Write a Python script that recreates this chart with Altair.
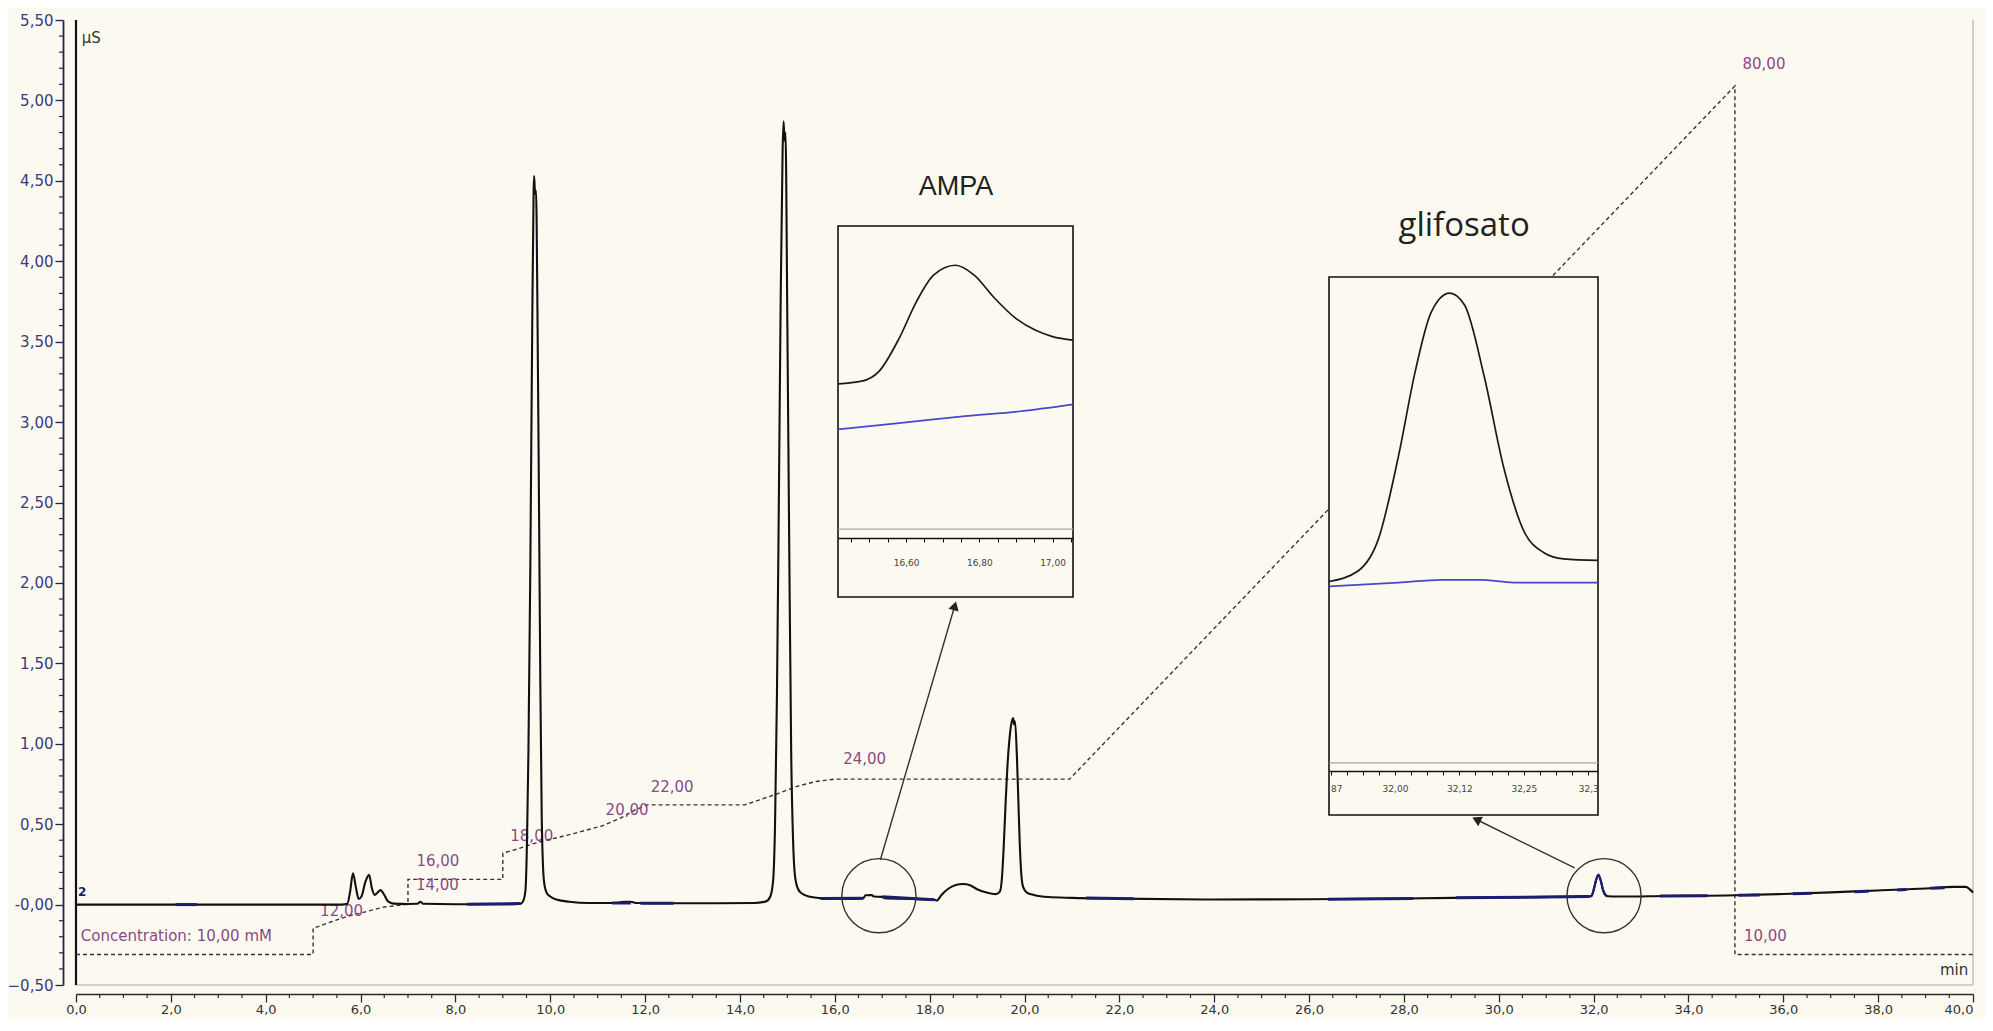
import altair as alt
import pandas as pd

# ---------------- layout constants ----------------
W, H = 1897, 965
X_DOMAIN = [0.0, 40.0]
Y_DOMAIN = [-0.5, 5.5]
BG = "#FCFAF0"
PURPLE = "#8a4a86"
NAVY = "#1d1d6e"

# ---------------- main chromatogram (min, µS) ----------------
TIME = [0.00, 2.00, 4.00, 5.60, 5.72, 5.78, 5.84, 5.90, 5.96, 6.02, 6.10, 6.18, 6.24, 6.30,
        6.36, 6.42, 6.50, 6.58, 6.70, 7.00, 7.20, 7.26, 7.32, 8.00, 9.00, 9.38, 9.44, 9.48,
        9.51, 9.54, 9.58, 9.62, 9.65, 9.66, 9.68, 9.70, 9.73, 9.76, 9.79, 9.82, 9.85, 9.88,
        9.93, 10.00, 10.15, 10.40, 10.80, 11.40, 11.55, 11.70, 11.80, 12.50, 13.50, 14.30,
        14.55, 14.64, 14.70, 14.74, 14.78, 14.82, 14.86, 14.90, 14.92, 14.94, 14.96, 15.00,
        15.04, 15.08, 15.12, 15.16, 15.22, 15.30, 15.45, 15.70, 16.00, 16.40, 16.60, 16.65,
        16.78, 16.82, 17.00, 17.05, 17.60, 18.10, 18.15, 18.25, 18.40, 18.55, 18.70, 18.85,
        19.00, 19.20, 19.40, 19.48, 19.52, 19.56, 19.60, 19.64, 19.68, 19.72, 19.76, 19.78,
        19.80, 19.84, 19.87, 19.90, 19.93, 19.97, 20.05, 20.20, 20.50, 21.00, 22.00, 24.00,
        26.00, 28.00, 30.00, 31.90, 31.96, 32.00, 32.05, 32.10, 32.15, 32.20, 32.25, 32.30,
        32.50, 33.50, 35.00, 36.00, 37.00, 38.00, 39.00, 39.60, 39.85, 39.95, 40.00]
SIGNAL = [0.000, 0.000, 0.000, 0.000, 0.005, 0.080, 0.195, 0.110, 0.035, 0.050, 0.140, 0.185, 0.100, 0.060,
          0.075, 0.090, 0.060, 0.020, 0.006, 0.004, 0.005, 0.018, 0.005, 0.002, 0.002, 0.006, 0.030, 0.100,
          0.400, 0.950, 2.100, 3.600, 4.450, 4.530, 4.420, 4.440, 3.700, 2.600, 1.400, 0.550, 0.220, 0.120,
          0.070, 0.050, 0.030, 0.018, 0.010, 0.010, 0.018, 0.018, 0.010, 0.008, 0.008, 0.010,
          0.020, 0.050, 0.150, 0.500, 1.300, 2.500, 3.800, 4.700, 4.870, 4.750, 4.800, 3.600,
          2.200, 0.950, 0.400, 0.180, 0.100, 0.070, 0.050, 0.040, 0.036, 0.035, 0.040, 0.058,
          0.060, 0.050, 0.048, 0.040, 0.035, 0.030, 0.025, 0.060, 0.100, 0.122, 0.128, 0.120,
          0.095, 0.075, 0.065, 0.080, 0.150, 0.350, 0.620, 0.860, 1.020, 1.120, 1.160, 1.120,
          1.140, 0.920, 0.650, 0.380, 0.200, 0.110, 0.075, 0.060, 0.047, 0.042, 0.037, 0.032,
          0.033, 0.038, 0.045, 0.050, 0.055, 0.090, 0.150, 0.185, 0.150, 0.090, 0.060, 0.052,
          0.050, 0.053, 0.058, 0.066, 0.076, 0.088, 0.100, 0.110, 0.110, 0.090, 0.075]

# integration-baseline marks (navy segments)
NAVY_T0 = [2.10, 8.25, 11.30, 11.90, 15.70, 17.00, 21.30, 26.40, 29.10, 33.40, 35.05, 36.20, 37.50, 38.40, 39.10]
NAVY_T1 = [2.55, 9.37, 11.70, 12.60, 16.60, 18.10, 22.30, 28.20, 31.90, 34.40, 35.50, 36.60, 37.80, 38.60, 39.40]
NAVY_Y0 = [0.000, 0.002, 0.010, 0.008, 0.038, 0.048, 0.041, 0.033, 0.042, 0.053, 0.058, 0.067, 0.080, 0.091, 0.101]
NAVY_Y1 = [0.000, 0.006, 0.010, 0.008, 0.040, 0.030, 0.037, 0.038, 0.050, 0.055, 0.060, 0.070, 0.083, 0.094, 0.104]

# eluent concentration program (drawn on the µS axis)
GRAD_T = [0.0, 5.0, 5.0, 5.1, 5.4, 5.7, 6.1, 6.5, 6.95, 7.0, 7.0, 9.0, 9.0, 9.3, 9.6, 9.9, 10.2,
          10.6, 11.1, 11.5, 11.8, 12.05, 14.1, 14.4, 14.8, 15.2, 15.6, 16.0, 20.95, 34.98, 34.98, 40.0]
GRAD_Y = [-0.31, -0.31, -0.147, -0.137, -0.105, -0.075, -0.045, -0.015, 0.0, 0.0, 0.157, 0.157,
          0.32, 0.345, 0.375, 0.40, 0.42, 0.45, 0.49, 0.54, 0.59, 0.62, 0.62, 0.65, 0.69, 0.735,
          0.765, 0.78, 0.78, 5.09, -0.31, -0.31]

# purple annotations
LAB_C_TEXT = ["12,00", "14,00", "16,00", "18,00", "20,00", "22,00", "24,00"]
LAB_C_T = [5.60, 7.62, 7.63, 9.61, 11.62, 12.57, 16.63]
LAB_C_Y = [-0.040, 0.122, 0.273, 0.427, 0.588, 0.733, 0.906]
LAB_L_TEXT = ["Concentration: 10,00 mM", "80,00", "10,00"]
LAB_L_T = [0.10, 35.14, 35.17]
LAB_L_Y = [-0.195, 5.226, -0.195]

# axis ticks
X_MAJOR = [0, 2, 4, 6, 8, 10, 12, 14, 16, 18, 20, 22, 24, 26, 28, 30, 32, 34, 36, 38, 40]
X_MINOR = [i * 0.5 for i in range(81) if i % 4]
Y_MAJOR = [-0.5, 0.0, 0.5, 1.0, 1.5, 2.0, 2.5, 3.0, 3.5, 4.0, 4.5, 5.0, 5.5]
Y_MINOR = [round(-0.5 + i * 0.1, 2) for i in range(61) if i % 5]

# ---------------- AMPA inset ----------------
AMPA_T = [16.414, 16.479, 16.526, 16.581, 16.628, 16.675, 16.735, 16.786, 16.842, 16.898, 16.954, 17.000, 17.056]
AMPA_V = [0.0463, 0.0466, 0.0477, 0.0514, 0.0555, 0.0585, 0.0596, 0.0585, 0.0559, 0.0537, 0.0523, 0.0516, 0.0512]
AMPA_BT = [16.414, 16.581, 16.768, 16.907, 17.056]
AMPA_BV = [0.0412, 0.0419, 0.0427, 0.0432, 0.0440]
AMPA_X = [16.414, 17.056]
AMPA_Y = [0.0224, 0.064]
AMPA_GRAY = 0.030
AMPA_MAJOR = [16.6, 16.8, 17.0]
AMPA_MINOR = [16.45, 16.5, 16.55, 16.65, 16.7, 16.75, 16.85, 16.9, 16.95, 17.05]

# ---------------- glifosato inset ----------------
GLIF_T = [31.872, 31.929, 31.968, 32.007, 32.039, 32.070, 32.106, 32.135, 32.173, 32.211, 32.250, 32.289, 32.327, 32.394]
GLIF_V = [0.0510, 0.0560, 0.0708, 0.1095, 0.1483, 0.1760, 0.1850, 0.1795, 0.1465, 0.1040, 0.0745, 0.0644, 0.0615, 0.0608]
GLIF_BT = [31.872, 32.007, 32.090, 32.166, 32.231, 32.394]
GLIF_BV = [0.0487, 0.0505, 0.0518, 0.0518, 0.0505, 0.0505]
GLIF_X = [31.872, 32.394]
GLIF_Y = [-0.0575, 0.1925]
GLIF_GRAY = -0.0333
GLIF_MAJOR = [32.0, 32.125, 32.25]
GLIF_EDGE = [31.875, 32.375]
GLIF_MINOR = [31.90625, 31.9375, 31.96875, 32.03125, 32.0625, 32.09375, 32.15625,
              32.1875, 32.21875, 32.28125, 32.3125, 32.34375]

# ---------------- call-outs ----------------
CIRCLE_T = [16.93, 32.22]
CIRCLE_Y = [0.055, 0.055]
ARROW_T0 = [16.96, 31.60]
ARROW_Y0 = [0.277, 0.228]
ARROW_T1 = [18.53, 29.53]
ARROW_Y1 = [1.858, 0.529]
ARROW_ANG = [16.3, 296.1]

# ================= chart =================
XS = alt.Scale(domain=X_DOMAIN, nice=False, zero=False)
YS = alt.Scale(domain=Y_DOMAIN, nice=False, zero=False)

XAX = alt.Axis(values=X_MAJOR, orient="bottom", offset=9, tickSize=8, tickWidth=1.3,
               tickColor="#2b2b2b", domainColor="#2b2b2b", domainWidth=1.5,
               labelExpr="replace(format(datum.value, '.1f'), '.', ',')",
               labelAlign={"condition": {"test": "datum.value == 40", "value": "right"}, "value": "center"},
               labelFont="DejaVu Sans", labelFontSize=13, labelColor="#333333",
               labelPadding=1, labelFlush=False, labelOverlap=False, grid=False, title=None)
YAX = alt.Axis(values=Y_MAJOR, orient="left", offset=13, tickSize=8, tickWidth=1.3,
               tickColor="#22224f", domainColor="#22224f", domainWidth=1.8,
               labelExpr="datum.value == 0 ? '-0,00' : replace(format(datum.value, '.2f'), '.', ',')",
               labelFont="DejaVu Sans", labelFontSize=15, labelColor="#3a3a78",
               labelPadding=2, labelFlush=False, labelOverlap=False, grid=False, title=None)


def mx(f):
    return alt.X(f, type="quantitative", scale=XS, axis=XAX)


def my(f):
    return alt.Y(f, type="quantitative", scale=YS, axis=YAX)


trace_df = pd.DataFrame({"t": TIME, "y": SIGNAL})
navy_df = pd.DataFrame({"t0": NAVY_T0, "t1": NAVY_T1, "y0": NAVY_Y0, "y1": NAVY_Y1})
grad_df = pd.DataFrame({"t": GRAD_T, "y": GRAD_Y, "i": list(range(len(GRAD_T)))})
labc_df = pd.DataFrame({"txt": LAB_C_TEXT, "t": LAB_C_T, "y": LAB_C_Y})
labl_df = pd.DataFrame({"txt": LAB_L_TEXT, "t": LAB_L_T, "y": LAB_L_Y})

frame_left = alt.Chart(pd.DataFrame({"t": [X_DOMAIN[0]], "y0": [Y_DOMAIN[0]], "y1": [Y_DOMAIN[1]]})).mark_rule(
    color="#111111", strokeWidth=2.2).encode(x=mx("t"), y=my("y0"), y2="y1")
frame_gray = alt.Chart(pd.DataFrame({"t0": [X_DOMAIN[0], X_DOMAIN[1]], "t1": [X_DOMAIN[1], X_DOMAIN[1]],
                                     "y0": [Y_DOMAIN[0], Y_DOMAIN[0]], "y1": [Y_DOMAIN[0], Y_DOMAIN[1]]})).mark_rule(
    color="#c4c4c4", strokeWidth=1.6).encode(x=mx("t0"), x2="t1", y=my("y0"), y2="y1")

x_minor = alt.Chart(pd.DataFrame({"t": X_MINOR})).mark_rule(color="#2b2b2b", strokeWidth=1.2).encode(
    x=mx("t"), y=alt.value(H + 9), y2=alt.value(H + 13))
y_minor = alt.Chart(pd.DataFrame({"v": Y_MINOR})).mark_rule(color="#22224f", strokeWidth=1.2).encode(
    y=my("v"), x=alt.value(-13), x2=alt.value(-17))

gradient = alt.Chart(grad_df).mark_line(color="#3e2c40", strokeWidth=1.4, strokeDash=[4, 3]).encode(
    x=mx("t"), y=my("y"), order="i:Q")

lab_center = alt.Chart(labc_df).mark_text(font="DejaVu Sans", fontSize=15, color=PURPLE,
                                          align="center", baseline="middle").encode(
    x=mx("t"), y=my("y"), text="txt:N")
lab_left = alt.Chart(labl_df).mark_text(font="DejaVu Sans", fontSize=15, color=PURPLE,
                                        align="left", baseline="middle").encode(
    x=mx("t"), y=my("y"), text="txt:N")
units = alt.Chart(pd.DataFrame({"txt": ["µS"], "t": [0.12], "y": [5.39]})).mark_text(
    font="DejaVu Sans", fontSize=15, color="#333333", align="left", baseline="middle").encode(
    x=mx("t"), y=my("y"), text="txt:N")
min_lab = alt.Chart(pd.DataFrame({"txt": ["min"], "t": [39.9], "y": [-0.407]})).mark_text(
    font="DejaVu Sans", fontSize=15, color="#333333", align="right", baseline="middle").encode(
    x=mx("t"), y=my("y"), text="txt:N")
two_lab = alt.Chart(pd.DataFrame({"txt": ["2"], "t": [0.04], "y": [0.08]})).mark_text(
    font="DejaVu Sans", fontSize=12, fontWeight="bold", color=NAVY, align="left", baseline="middle").encode(
    x=mx("t"), y=my("y"), text="txt:N")

trace = alt.Chart(trace_df).mark_line(color="#111111", strokeWidth=2.1, interpolate="monotone").encode(
    x=mx("t"), y=my("y"))
glif_main = alt.Chart(trace_df).transform_filter("datum.t >= 31.9 && datum.t <= 32.3").mark_line(
    color=NAVY, strokeWidth=2.1, interpolate="monotone").encode(x=mx("t"), y=my("y"))
navy = alt.Chart(navy_df).mark_rule(color=NAVY, strokeWidth=3).encode(
    x=mx("t0"), x2="t1", y=my("y0"), y2="y1")

main = alt.layer(frame_gray, frame_left, x_minor, y_minor, gradient, lab_center, lab_left,
                 units, min_lab, two_lab, trace, glif_main, navy)


# ---------------- inset builder ----------------
def inset(xdom, ydom, xrange, yrange, gray, cur_t, cur_v, base_t, base_v, axis):
    sx = alt.Scale(domain=xdom, range=xrange, nice=False, zero=False)
    sy = alt.Scale(domain=ydom, range=yrange, nice=False, zero=False)

    def ix(f):
        return alt.X(f, type="quantitative", scale=sx, axis=axis)

    def iy(f):
        return alt.Y(f, type="quantitative", scale=sy, axis=None)

    box = alt.Chart(pd.DataFrame({"t0": [xdom[0]], "t1": [xdom[1]], "v0": [ydom[0]], "v1": [ydom[1]]})).mark_rect(
        fill=BG, stroke="#111111", strokeWidth=1.6).encode(x=ix("t0"), x2="t1", y=iy("v0"), y2="v1")
    grayline = alt.Chart(pd.DataFrame({"t0": [xdom[0]], "t1": [xdom[1]], "v": [gray]})).mark_rule(
        color="#a6a6a6", strokeWidth=1.3).encode(x=ix("t0"), x2="t1", y=iy("v"))
    blue = alt.Chart(pd.DataFrame({"t": base_t, "v": base_v})).mark_line(
        color="#4848c8", strokeWidth=1.7, interpolate="monotone").encode(x=ix("t"), y=iy("v"))
    black = alt.Chart(pd.DataFrame({"t": cur_t, "v": cur_v})).mark_line(
        color="#1a1a1a", strokeWidth=1.7, interpolate="monotone").encode(x=ix("t"), y=iy("v"))
    return alt.layer(box, grayline, blue, black)


AAX = alt.Axis(values=AMPA_MAJOR + AMPA_MINOR, orient="bottom", offset=518 - H, zindex=1,
               tickSize=4, tickColor="#111111", domainColor="#111111", domainWidth=1.6,
               labelExpr="indexof([16.6, 16.8, 17.0], datum.value) >= 0 ? replace(format(datum.value, '.2f'), '.', ',') : ''",
               labelFont="DejaVu Sans", labelFontSize=9, labelColor="#444444", labelPadding=16,
               labelFlush=False, labelOverlap=False, grid=False, title=None)
GAX = alt.Axis(values=GLIF_MAJOR + GLIF_EDGE + GLIF_MINOR, orient="bottom", offset=751 - H, zindex=1,
               tickSize=4, tickColor="#111111", domainColor="#111111", domainWidth=1.6,
               labelExpr="datum.value == 31.875 ? '87' : datum.value == 32.375 ? '32,3' : "
                         "indexof([32.0, 32.125, 32.25], datum.value) >= 0 ? "
                         "replace(format(floor(datum.value * 100) / 100, '.2f'), '.', ',') : ''",
               labelAlign={"condition": {"test": "datum.value == 31.875", "value": "left"}, "value": "center"},
               labelFont="DejaVu Sans", labelFontSize=9, labelColor="#444444", labelPadding=9,
               labelFlush=False, labelOverlap=False, grid=False, title=None)

ampa = inset(AMPA_X, AMPA_Y, [762, 997], [577, 206], AMPA_GRAY, AMPA_T, AMPA_V, AMPA_BT, AMPA_BV, AAX)
glif = inset(GLIF_X, GLIF_Y, [1253, 1522], [795, 257], GLIF_GRAY, GLIF_T, GLIF_V, GLIF_BT, GLIF_BV, GAX)

# ---------------- overlay: circles, arrows, inset titles ----------------
OXS = alt.Scale(domain=X_DOMAIN, nice=False, zero=False)
OYS = alt.Scale(domain=Y_DOMAIN, nice=False, zero=False)


def ox(f):
    return alt.X(f, type="quantitative", scale=OXS, axis=None)


def oy(f):
    return alt.Y(f, type="quantitative", scale=OYS, axis=None)


circ = alt.Chart(pd.DataFrame({"t": CIRCLE_T, "y": CIRCLE_Y})).mark_point(
    shape="circle", filled=False, size=5500, color="#333333", strokeWidth=1.4, opacity=1).encode(
    x=ox("t"), y=oy("y"))
arr_df = pd.DataFrame({"t0": ARROW_T0, "y0": ARROW_Y0, "t1": ARROW_T1, "y1": ARROW_Y1, "ang": ARROW_ANG})
arr_line = alt.Chart(arr_df).mark_rule(color="#333333", strokeWidth=1.4).encode(
    x=ox("t0"), x2="t1", y=oy("y0"), y2="y1")
arr_head = alt.Chart(arr_df).mark_point(shape="triangle-up", filled=True, size=110, color="#222222",
                                        opacity=1).encode(
    x=ox("t1"), y=oy("y1"), angle=alt.Angle("ang:Q", scale=None))
t_ampa = alt.Chart(pd.DataFrame({"txt": ["AMPA"], "t": [18.555], "y": [4.413]})).mark_text(
    font="Liberation Sans", fontSize=27, color="#222222", align="center", baseline="alphabetic").encode(
    x=ox("t"), y=oy("y"), text="txt:N")
t_glif = alt.Chart(pd.DataFrame({"txt": ["glifosato"], "t": [29.27], "y": [4.154]})).mark_text(
    font="Open Sans", fontSize=33, color="#222222", align="center", baseline="alphabetic").encode(
    x=ox("t"), y=oy("y"), text="txt:N")

overlay = alt.layer(circ, arr_line, arr_head, t_ampa, t_glif)

chart = alt.layer(main, ampa, glif, overlay).resolve_scale(
    x="independent", y="independent"
).properties(
    width=W, height=H,
    autosize=alt.AutoSizeParams(type="none"),
    padding={"left": 68, "top": 12, "right": 12, "bottom": 34},
    background=BG,
).configure_view(stroke=None, fill=BG)

chart.save("out.html", embed_options={"renderer": "svg", "actions": False})
